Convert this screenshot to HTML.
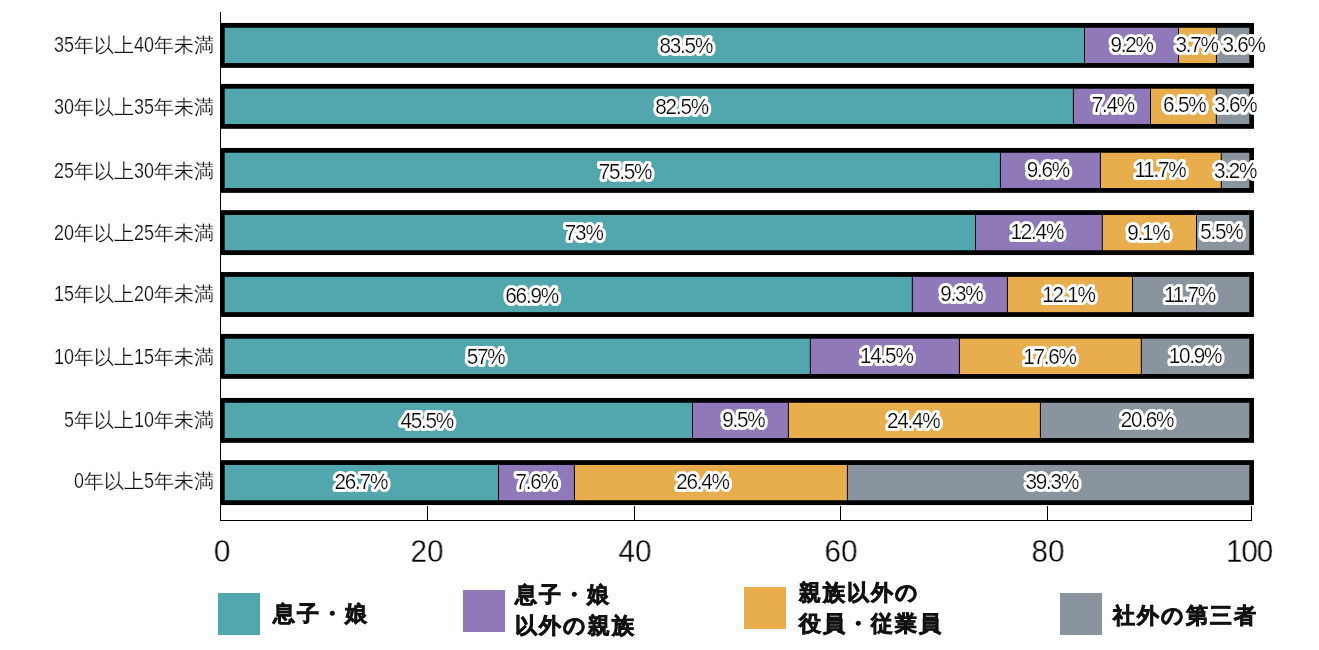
<!DOCTYPE html>
<html lang="ja"><head><meta charset="utf-8"><title>chart</title><style>
html,body{margin:0;padding:0;background:#fff;}
body{width:1319px;height:650px;overflow:hidden;position:relative;font-family:"Liberation Sans",sans-serif;}
svg{position:absolute;left:0;top:0;will-change:transform;}
svg text{font-family:"Liberation Sans",sans-serif;font-size:22px;letter-spacing:-1.3px;text-anchor:middle;}
.ph{fill:#fff;stroke:#fff;stroke-width:6.2px;stroke-linejoin:round;}
.pf{fill:#000;stroke:#fff;stroke-width:0.25px;}
.yl{will-change:transform;position:absolute;right:1105.1px;font-size:20px;color:#111;white-space:nowrap;line-height:20px;height:20px;-webkit-text-stroke:0.2px #fff;}
.yl .d{display:inline-block;font-size:21.9px;letter-spacing:0px;transform:scaleX(0.82);transform-origin:0 0;vertical-align:top;line-height:20px;}
.xl{will-change:transform;position:absolute;width:80px;margin-left:-40px;text-align:center;font-size:31px;color:#000;line-height:1;top:536px;transform:scaleX(0.96);-webkit-text-stroke:0.3px #fff;}
.sw{position:absolute;width:42px;height:42px;}
.lt{will-change:transform;position:absolute;font-size:21.5px;font-weight:bold;color:#111;line-height:31.2px;white-space:nowrap;-webkit-text-stroke:0.8px #111;letter-spacing:2.0px;}
</style></head><body>
<svg width="1319" height="650" viewBox="0 0 1319 650">
<g shape-rendering="crispEdges" fill="#000">
<rect x="220" y="12" width="1" height="509"/>
<rect x="220" y="520" width="1032" height="1"/>
<rect x="427" y="506" width="1" height="14"/>
<rect x="634" y="506" width="1" height="14"/>
<rect x="840" y="506" width="1" height="14"/>
<rect x="1047" y="506" width="1" height="14"/>
<rect x="1251" y="506" width="1" height="14"/>
</g>
<rect x="220.5" y="22.95" width="1033.5" height="44.9" fill="#000"/>
<rect x="224.7" y="27.75" width="859.3" height="35.3" fill="#52a7af"/>
<rect x="1085" y="27.75" width="93" height="35.3" fill="#9079b9"/>
<rect x="1179" y="27.75" width="36.9" height="35.3" fill="#e8ad4d"/>
<rect x="1216.9" y="27.75" width="32.4" height="35.3" fill="#8a949f"/>
<rect x="220.5" y="83.9" width="1033.5" height="44.9" fill="#000"/>
<rect x="224.7" y="88.7" width="848.2" height="35.3" fill="#52a7af"/>
<rect x="1073.9" y="88.7" width="76.1" height="35.3" fill="#9079b9"/>
<rect x="1151" y="88.7" width="64.8" height="35.3" fill="#e8ad4d"/>
<rect x="1216.8" y="88.7" width="32.5" height="35.3" fill="#8a949f"/>
<rect x="220.5" y="147.95" width="1033.5" height="44.9" fill="#000"/>
<rect x="224.7" y="152.75" width="775.2" height="35.3" fill="#52a7af"/>
<rect x="1000.9" y="152.75" width="99" height="35.3" fill="#9079b9"/>
<rect x="1100.9" y="152.75" width="119.9" height="35.3" fill="#e8ad4d"/>
<rect x="1221.8" y="152.75" width="27.5" height="35.3" fill="#8a949f"/>
<rect x="220.5" y="210.15" width="1033.5" height="44.9" fill="#000"/>
<rect x="224.7" y="214.95" width="750.3" height="35.3" fill="#52a7af"/>
<rect x="976" y="214.95" width="125.8" height="35.3" fill="#9079b9"/>
<rect x="1102.8" y="214.95" width="93.2" height="35.3" fill="#e8ad4d"/>
<rect x="1197" y="214.95" width="52.3" height="35.3" fill="#8a949f"/>
<rect x="220.5" y="272.05" width="1033.5" height="44.9" fill="#000"/>
<rect x="224.7" y="276.85" width="687.1" height="35.3" fill="#52a7af"/>
<rect x="912.8" y="276.85" width="94.1" height="35.3" fill="#9079b9"/>
<rect x="1007.9" y="276.85" width="124.1" height="35.3" fill="#e8ad4d"/>
<rect x="1133" y="276.85" width="116.3" height="35.3" fill="#8a949f"/>
<rect x="220.5" y="333.9" width="1033.5" height="44.9" fill="#000"/>
<rect x="224.7" y="338.7" width="585.1" height="35.3" fill="#52a7af"/>
<rect x="810.8" y="338.7" width="148.1" height="35.3" fill="#9079b9"/>
<rect x="959.9" y="338.7" width="180.9" height="35.3" fill="#e8ad4d"/>
<rect x="1141.8" y="338.7" width="107.5" height="35.3" fill="#8a949f"/>
<rect x="220.5" y="397.95" width="1033.5" height="44.9" fill="#000"/>
<rect x="224.7" y="402.75" width="467.3" height="35.3" fill="#52a7af"/>
<rect x="693" y="402.75" width="94.9" height="35.3" fill="#9079b9"/>
<rect x="788.9" y="402.75" width="251" height="35.3" fill="#e8ad4d"/>
<rect x="1040.9" y="402.75" width="208.4" height="35.3" fill="#8a949f"/>
<rect x="220.5" y="460.15" width="1033.5" height="44.9" fill="#000"/>
<rect x="224.7" y="464.95" width="273.3" height="35.3" fill="#52a7af"/>
<rect x="499" y="464.95" width="74.9" height="35.3" fill="#9079b9"/>
<rect x="574.9" y="464.95" width="272" height="35.3" fill="#e8ad4d"/>
<rect x="847.9" y="464.95" width="401.4" height="35.3" fill="#8a949f"/>
<text class="ph" transform="translate(685.8 52.5) scale(0.94 1)">83.5%</text><text class="pf" transform="translate(685.8 52.5) scale(0.94 1)">83.5%</text>
<text class="ph" transform="translate(1131.5 51.75) scale(0.94 1)">9.2%</text><text class="pf" transform="translate(1131.5 51.75) scale(0.94 1)">9.2%</text>
<text class="ph" transform="translate(1196.6 51.75) scale(0.94 1)">3.7%</text><text class="pf" transform="translate(1196.6 51.75) scale(0.94 1)">3.7%</text>
<text class="ph" transform="translate(1243.5 51.75) scale(0.94 1)">3.6%</text><text class="pf" transform="translate(1243.5 51.75) scale(0.94 1)">3.6%</text>
<text class="ph" transform="translate(681.6 113.5) scale(0.94 1)">82.5%</text><text class="pf" transform="translate(681.6 113.5) scale(0.94 1)">82.5%</text>
<text class="ph" transform="translate(1112.8 111.9) scale(0.94 1)">7.4%</text><text class="pf" transform="translate(1112.8 111.9) scale(0.94 1)">7.4%</text>
<text class="ph" transform="translate(1184.2 111.9) scale(0.94 1)">6.5%</text><text class="pf" transform="translate(1184.2 111.9) scale(0.94 1)">6.5%</text>
<text class="ph" transform="translate(1235.4 111.9) scale(0.94 1)">3.6%</text><text class="pf" transform="translate(1235.4 111.9) scale(0.94 1)">3.6%</text>
<text class="ph" transform="translate(625 178.9) scale(0.94 1)">75.5%</text><text class="pf" transform="translate(625 178.9) scale(0.94 1)">75.5%</text>
<text class="ph" transform="translate(1047.9 177.2) scale(0.94 1)">9.6%</text><text class="pf" transform="translate(1047.9 177.2) scale(0.94 1)">9.6%</text>
<text class="ph" transform="translate(1159.9 177.2) scale(0.94 1)">11.7%</text><text class="pf" transform="translate(1159.9 177.2) scale(0.94 1)">11.7%</text>
<text class="ph" transform="translate(1235 177.55) scale(0.94 1)">3.2%</text><text class="pf" transform="translate(1235 177.55) scale(0.94 1)">3.2%</text>
<text class="ph" transform="translate(583.7 239.9) scale(0.94 1)">73%</text><text class="pf" transform="translate(583.7 239.9) scale(0.94 1)">73%</text>
<text class="ph" transform="translate(1036.8 239.2) scale(0.94 1)">12.4%</text><text class="pf" transform="translate(1036.8 239.2) scale(0.94 1)">12.4%</text>
<text class="ph" transform="translate(1148.3 239.9) scale(0.94 1)">9.1%</text><text class="pf" transform="translate(1148.3 239.9) scale(0.94 1)">9.1%</text>
<text class="ph" transform="translate(1221.3 239.2) scale(0.94 1)">5.5%</text><text class="pf" transform="translate(1221.3 239.2) scale(0.94 1)">5.5%</text>
<text class="ph" transform="translate(531.6 302.6) scale(0.94 1)">66.9%</text><text class="pf" transform="translate(531.6 302.6) scale(0.94 1)">66.9%</text>
<text class="ph" transform="translate(961.3 300.85) scale(0.94 1)">9.3%</text><text class="pf" transform="translate(961.3 300.85) scale(0.94 1)">9.3%</text>
<text class="ph" transform="translate(1068.4 301.55) scale(0.94 1)">12.1%</text><text class="pf" transform="translate(1068.4 301.55) scale(0.94 1)">12.1%</text>
<text class="ph" transform="translate(1189.5 301.55) scale(0.94 1)">11.7%</text><text class="pf" transform="translate(1189.5 301.55) scale(0.94 1)">11.7%</text>
<text class="ph" transform="translate(485.5 363.9) scale(0.94 1)">57%</text><text class="pf" transform="translate(485.5 363.9) scale(0.94 1)">57%</text>
<text class="ph" transform="translate(886.3 362.65) scale(0.94 1)">14.5%</text><text class="pf" transform="translate(886.3 362.65) scale(0.94 1)">14.5%</text>
<text class="ph" transform="translate(1049.4 363.9) scale(0.94 1)">17.6%</text><text class="pf" transform="translate(1049.4 363.9) scale(0.94 1)">17.6%</text>
<text class="ph" transform="translate(1195 363.3) scale(0.94 1)">10.9%</text><text class="pf" transform="translate(1195 363.3) scale(0.94 1)">10.9%</text>
<text class="ph" transform="translate(426.7 427.5) scale(0.94 1)">45.5%</text><text class="pf" transform="translate(426.7 427.5) scale(0.94 1)">45.5%</text>
<text class="ph" transform="translate(743.3 426.65) scale(0.94 1)">9.5%</text><text class="pf" transform="translate(743.3 426.65) scale(0.94 1)">9.5%</text>
<text class="ph" transform="translate(913.2 427.55) scale(0.94 1)">24.4%</text><text class="pf" transform="translate(913.2 427.55) scale(0.94 1)">24.4%</text>
<text class="ph" transform="translate(1146.9 426.65) scale(0.94 1)">20.6%</text><text class="pf" transform="translate(1146.9 426.65) scale(0.94 1)">20.6%</text>
<text class="ph" transform="translate(360.8 488.5) scale(0.94 1)">26.7%</text><text class="pf" transform="translate(360.8 488.5) scale(0.94 1)">26.7%</text>
<text class="ph" transform="translate(536.6 488.65) scale(0.94 1)">7.6%</text><text class="pf" transform="translate(536.6 488.65) scale(0.94 1)">7.6%</text>
<text class="ph" transform="translate(702.5 489.2) scale(0.94 1)">26.4%</text><text class="pf" transform="translate(702.5 489.2) scale(0.94 1)">26.4%</text>
<text class="ph" transform="translate(1051.8 488.65) scale(0.94 1)">39.3%</text><text class="pf" transform="translate(1051.8 488.65) scale(0.94 1)">39.3%</text>
</svg>
<div class="yl" style="top:34.7px"><span class="d" style="margin-right:-4.38px">35</span>年以上<span class="d" style="margin-right:-4.38px">40</span>年未満</div>
<div class="yl" style="top:96.65px"><span class="d" style="margin-right:-4.38px">30</span>年以上<span class="d" style="margin-right:-4.38px">35</span>年未満</div>
<div class="yl" style="top:161.45px"><span class="d" style="margin-right:-4.38px">25</span>年以上<span class="d" style="margin-right:-4.38px">30</span>年未満</div>
<div class="yl" style="top:222.9px"><span class="d" style="margin-right:-4.38px">20</span>年以上<span class="d" style="margin-right:-4.38px">25</span>年未満</div>
<div class="yl" style="top:283.65px"><span class="d" style="margin-right:-4.38px">15</span>年以上<span class="d" style="margin-right:-4.38px">20</span>年未満</div>
<div class="yl" style="top:347.05px"><span class="d" style="margin-right:-4.38px">10</span>年以上<span class="d" style="margin-right:-4.38px">15</span>年未満</div>
<div class="yl" style="top:410.2px"><span class="d" style="margin-right:-2.19px">5</span>年以上<span class="d" style="margin-right:-4.38px">10</span>年未満</div>
<div class="yl" style="top:470.7px"><span class="d" style="margin-right:-2.19px">0</span>年以上<span class="d" style="margin-right:-2.19px">5</span>年未満</div>
<div class="xl" style="left:221.8px">0</div>
<div class="xl" style="left:426.5px">20</div>
<div class="xl" style="left:634.9px">40</div>
<div class="xl" style="left:840.5px">60</div>
<div class="xl" style="left:1047.5px">80</div>
<div class="xl" style="left:1249.45px;letter-spacing:-1.2px">100</div>
<div class="sw" style="left:218px;top:593px;background:#52a7af"></div>
<div class="lt" style="left:273px;top:598.8px">息子・娘</div>
<div class="sw" style="left:463px;top:590px;background:#9079b9"></div>
<div class="lt" style="left:515.3px;top:580.4px">息子・娘<br>以外の親族</div>
<div class="sw" style="left:744px;top:587px;background:#e8ad4d"></div>
<div class="lt" style="left:798.8px;top:577.7px">親族以外の<br>役員・従業員</div>
<div class="sw" style="left:1060px;top:593px;background:#8a949f"></div>
<div class="lt" style="left:1112.8px;top:600.5px">社外の第三者</div>
</body></html>
